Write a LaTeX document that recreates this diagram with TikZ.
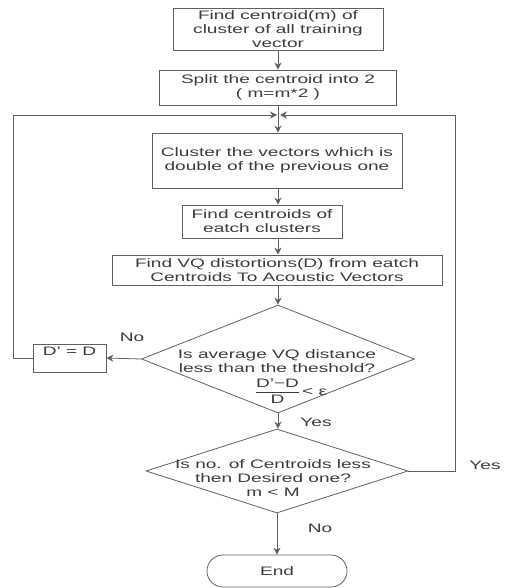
\documentclass[tikz,border=0pt]{standalone}
\usepackage{fontspec}
\setmainfont{Liberation Sans}[FakeStretch=1.55]
\usetikzlibrary{arrows.meta,shapes.geometric}
\definecolor{ink}{HTML}{3C3C3C}
\definecolor{edge}{HTML}{606060}
\begin{document}
\begin{tikzpicture}[x=1pt,y=-1pt,
  every node/.style={font=\fontsize{12.3}{14}\selectfont, text=ink},
  box/.style={draw=edge, line width=0.8pt, inner sep=0pt, align=center},
  dia/.style={draw=edge, line width=0.8pt, diamond, inner sep=0pt},
  lbl/.style={inner sep=0pt, align=center},
  arr/.style={draw=edge, line width=0.8pt, -{Stealth[length=7pt,width=7pt]}},
  ln/.style={draw=edge, line width=0.8pt}]
\useasboundingbox (0,0) rectangle (513,588);
% boxes
\node[box, minimum width=210, minimum height=42] (b1) at (278,29) {Find centroid(m) of\\cluster of all training\\vector};
\node[box, minimum width=237, minimum height=35] (b2) at (278,87.5) {Split the centroid into 2\\( m=m*2 )};
\node[box, minimum width=250, minimum height=55] (b3) at (277,160.5) {Cluster the vectors which is\\double of the previous one};
\node[box, minimum width=160, minimum height=33] (b4) at (262,221.5) {Find centroids of\\eatch clusters};
\node[box, minimum width=330, minimum height=30] (b5) at (277,270) {Find VQ distortions(D) from eatch\\Centroids To Acoustic Vectors};
\node[dia, minimum width=273, minimum height=108] (d1) at (278,359) {};
\node[lbl] (t1) at (277,361) {Is average VQ distance\\less than the theshold?};
\node[lbl] (t1f) at (291,391) {$\displaystyle\frac{\mbox{D'−D}}{\mbox{D}}$\,< ε};
\node[box, minimum width=73, minimum height=28] (dd) at (69.5,358) {};
\node[lbl] (ddt) at (69.5,351) {D' = D};
\node[dia, minimum width=262, minimum height=84] (d2) at (277,471) {};
\node[lbl] (t2) at (273,478) {Is no. of Centroids less\\then Desired one?\\m < M};
\node[box, rounded corners=16pt, minimum width=140, minimum height=32] (end) at (277,571) {End};
% labels
\node[lbl] (no1) at (132,337) {No};
\node[lbl] (yes1) at (316,422) {Yes};
\node[lbl] (yes2) at (485,465) {Yes};
\node[lbl] (no2) at (320,528) {No};
% connectors
\coordinate (m) at (278,115);
\coordinate (mL) at (277,115);
\coordinate (mR) at (280,115);
\coordinate (lx) at (13,115);
\coordinate (rx) at (455,115);
\draw[arr] (b1.south) -- (b1.south |- b2.north);
\draw[ln] (b2.south) -- (b2.south |- m);
\draw[arr] (m) -- (m |- b3.north);
\draw[arr] (m |- b3.south) -- (m |- b4.north);
\draw[arr] (m |- b4.south) -- (m |- b5.north);
\draw[arr] (m |- b5.south) -- (d1.north);
\draw[arr] (d1.west) -- (dd.east);
\draw[arr] (dd.west) -| (lx) -- (mL);
\draw[arr] (d1.south) -- (d1.south |- d2.north);
\draw[arr] (d2.east) -| (rx) -- (mR);
\draw[arr] (d2.south) -- (end.north);
\end{tikzpicture}
\end{document}
